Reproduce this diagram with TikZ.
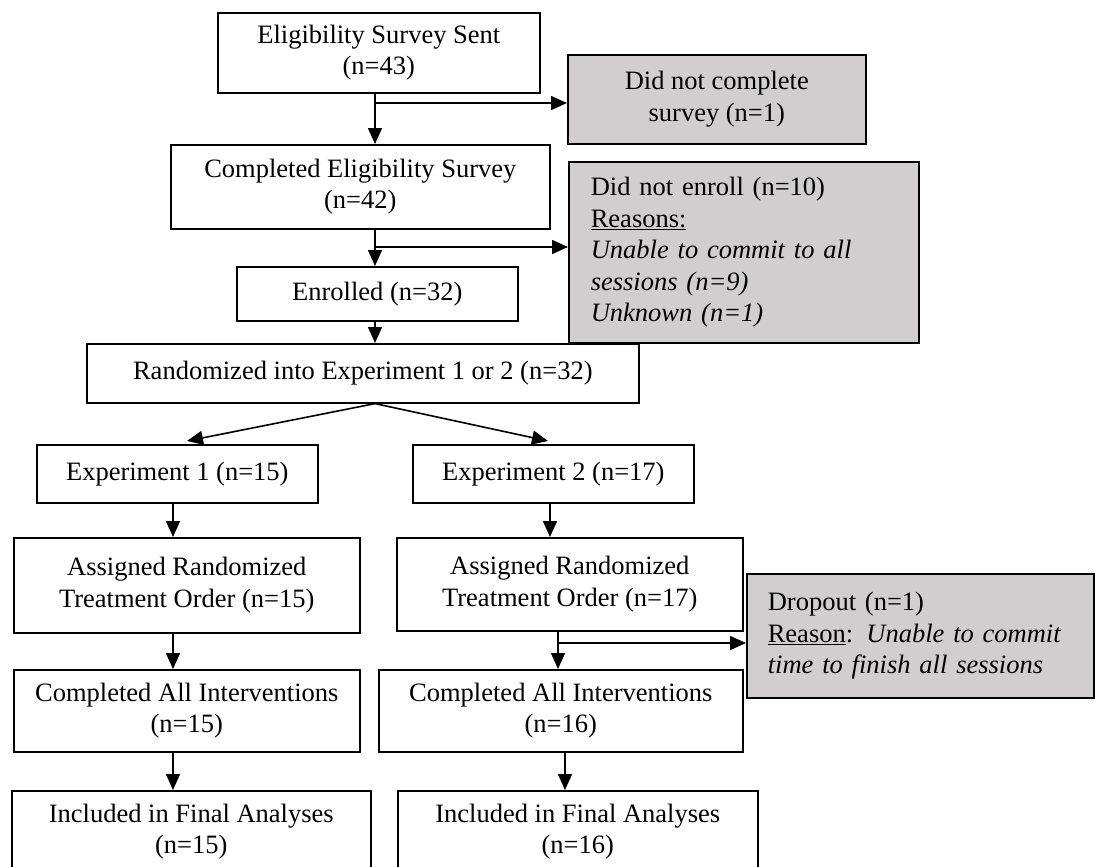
\documentclass[tikz,border=0pt]{standalone}
\usepackage{fontspec}
\setmainfont{Liberation Serif}
\usepackage{xcolor}
\definecolor{flowgray}{RGB}{208,206,206}
\usetikzlibrary{arrows.meta, positioning, calc}

\begin{document}
\begin{tikzpicture}[x=1pt, y=-1pt,
  box/.style={draw, line width=1.6pt, fill=white, anchor=north west, inner sep=0pt,
              align=center, font=\fontsize{26.5}{31.5}\selectfont},
  exclbox/.style={box, fill=flowgray},
  sized/.style 2 args={minimum width=#1pt, minimum height=#2pt},
  arr/.style={-{Triangle[length=16pt, width=14pt]}, line width=1.6pt}]

\useasboundingbox (0,0) rectangle (1096,867);
\clip (0,0) rectangle (1096,867);

% --- Screening ---
\node[box, sized={322}{80}] (sent) at (217,12) {Eligibility Survey Sent\\(n=43)};
\node[exclbox, sized={298}{89}] (nocomp) at (567,54) {Did not complete\\survey (n=1)};
\node[box, sized={379}{84}] (compl) at (170,144) {Completed Eligibility Survey\\(n=42)};
\node[exclbox, sized={350}{181}, align=left, text width=306pt, inner xsep=22pt]
     (noenrol) at (568,161)
     {Did not enroll (n=10)\\\underline{Reasons:}\\\textit{Unable to commit to all}\\
      \textit{sessions (n=9)}\\\textit{Unknown (n=1)}};
\node[box, sized={281}{54}] (enrol) at (236,266) {Enrolled (n=32)};
\node[box, sized={552}{59}] (rand) at (86,343) {Randomized into Experiment 1 or 2 (n=32)};

% --- Experiment 1 ---
\node[box, sized={281}{58}] (exp1) at (36,444) {Experiment 1 (n=15)};
\node[box, sized={346}{95}] (assign1) at (13,537) {Assigned Randomized\\Treatment Order (n=15)};
\node[box, sized={346}{82}] (done1) at (13,669) {Completed All Interventions\\(n=15)};
\node[box, sized={359}{82}] (final1) at (11,790) {Included in Final Analyses\\(n=15)};

% --- Experiment 2 ---
\node[box, sized={281}{58}] (exp2) at (412,444) {Experiment 2 (n=17)};
\node[box, sized={346}{93}] (assign2) at (396,537) {Assigned Randomized\\Treatment Order (n=17)};
\node[exclbox, sized={347}{124}, align=left, text width=305pt, inner xsep=21pt]
     (drop) at (746,573)
     {Dropout (n=1)\\\underline{Reason}: \textit{Unable to commit}\\
      \textit{time to finish all sessions}};
\node[box, sized={364}{82}] (done2) at (378,669) {Completed All Interventions\\(n=16)};
\node[box, sized={360}{82}] (final2) at (397,790) {Included in Final Analyses\\(n=16)};

% connector lines
\coordinate (trunk) at (375,0);
\coordinate (fork1) at (375,103);
\coordinate (fork2) at (375,247);
\coordinate (tip1) at (187,441);
\coordinate (tip2) at (548,441);
\coordinate (colA) at (173,0);
\coordinate (colB) at (550,0);
\coordinate (colC) at (558,0);
\coordinate (fork3) at (558,643);
\coordinate (colD) at (565,0);

\draw[arr] (sent.south -| trunk) -- (compl.north -| trunk);
\draw[arr] (fork1) -- (fork1 -| nocomp.west);
\draw[arr] (compl.south -| trunk) -- (enrol.north -| trunk);
\draw[arr] (fork2) -- (fork2 -| noenrol.west);
\draw[arr] (enrol.south -| trunk) -- (rand.north -| trunk);
\draw[arr] (rand.south -| trunk) -- (tip1);
\draw[arr] (rand.south -| trunk) -- (tip2);

\draw[arr] (exp1.south -| colA) -- (assign1.north -| colA);
\draw[arr] (assign1.south -| colA) -- (done1.north -| colA);
\draw[arr] (done1.south -| colA) -- (final1.north -| colA);

\draw[arr] (exp2.south -| colB) -- (assign2.north -| colB);
\draw[arr] (assign2.south -| colC) -- (done2.north -| colC);
\draw[arr] (fork3) -- (fork3 -| drop.west);
\draw[arr] (done2.south -| colD) -- (final2.north -| colD);

\end{tikzpicture}
\end{document}
